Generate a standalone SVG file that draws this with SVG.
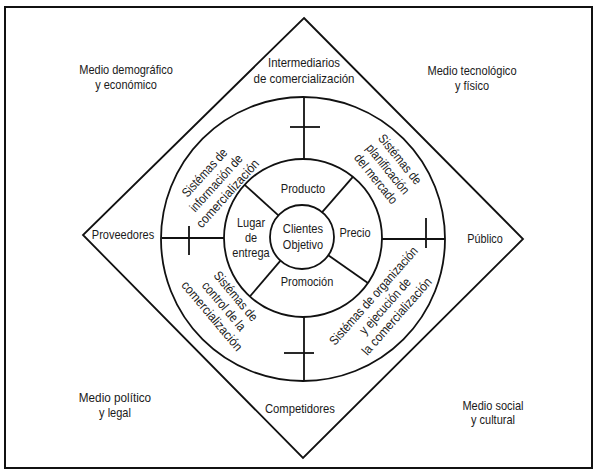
<svg xmlns="http://www.w3.org/2000/svg" width="596" height="472" viewBox="0 0 596 472">
<style>
.t{font-family:"Liberation Sans",Arial,sans-serif;font-size:13px;fill:#1a1a1a;text-anchor:middle}
.s{fill:none;stroke:#111;stroke-width:1.8}
.f{fill:none;stroke:#111;stroke-width:2}
</style>
<rect width="596" height="472" fill="#ffffff"/>
<rect id="frame" class="f" x="5" y="7" width="587" height="461"/>
<g id="shapes">
<polygon id="diamond" class="s" points="304,18 523,239 303,458 83,235"/>
<circle id="outer-ring" class="s" cx="303" cy="239" r="142"/>
<circle id="middle-ring" class="s" cx="303" cy="238" r="79"/>
<circle id="inner-circle" class="s" cx="302" cy="237" r="32"/>
</g>
<g id="connectors" class="s">
<line x1="304" y1="97" x2="304" y2="159"/>
<line x1="290" y1="127" x2="320" y2="127"/>
<line x1="304" y1="317" x2="304" y2="381"/>
<line x1="284" y1="353" x2="314" y2="353"/>
<line x1="162" y1="238" x2="224" y2="238"/>
<line x1="189" y1="226" x2="189" y2="255"/>
<line x1="382" y1="239" x2="445" y2="239"/>
<line x1="426" y1="218" x2="426" y2="248"/>
<line x1="278.4" y1="215.4" x2="244.7" y2="184.8"/>
<line x1="322.2" y1="212.2" x2="352.9" y2="176.8"/>
<line x1="328.3" y1="255.2" x2="367.9" y2="283"/>
<line x1="280.5" y1="260.7" x2="249.8" y2="296.5"/>
</g>
<g id="medio-demografico"><text class="t" x="126" y="74" textLength="93.5" lengthAdjust="spacingAndGlyphs">Medio demográfico</text><text class="t" x="126" y="89" textLength="61.7" lengthAdjust="spacingAndGlyphs">y económico</text></g>
<g id="medio-tecnologico"><text class="t" x="472" y="75" textLength="89.1" lengthAdjust="spacingAndGlyphs">Medio tecnológico</text><text class="t" x="472" y="90" textLength="34.2" lengthAdjust="spacingAndGlyphs">y físico</text></g>
<g id="medio-politico"><text class="t" x="115" y="402" textLength="72.3" lengthAdjust="spacingAndGlyphs">Medio político</text><text class="t" x="115" y="417" textLength="31.8" lengthAdjust="spacingAndGlyphs">y legal</text></g>
<g id="medio-social"><text class="t" x="493" y="410" textLength="61.1" lengthAdjust="spacingAndGlyphs">Medio social</text><text class="t" x="493" y="424" textLength="44" lengthAdjust="spacingAndGlyphs">y cultural</text></g>
<g id="intermediarios"><text class="t" x="304" y="67" textLength="72" lengthAdjust="spacingAndGlyphs">Intermediarios</text><text class="t" x="304" y="83" textLength="101" lengthAdjust="spacingAndGlyphs">de comercialización</text></g>
<g id="proveedores"><text class="t" x="123" y="239" textLength="62.4" lengthAdjust="spacingAndGlyphs">Proveedores</text></g>
<g id="publico"><text class="t" x="485" y="243" textLength="35.5" lengthAdjust="spacingAndGlyphs">Público</text></g>
<g id="competidores"><text class="t" x="300" y="413" textLength="70" lengthAdjust="spacingAndGlyphs">Competidores</text></g>
<g id="sis-informacion" transform="translate(216,183) rotate(-48)"><text class="t" x="0" y="-11" textLength="60.5" lengthAdjust="spacingAndGlyphs">Sistémas de</text><text class="t" x="0" y="4.5" textLength="72.1" lengthAdjust="spacingAndGlyphs">información de</text><text class="t" x="0" y="20" textLength="86.8" lengthAdjust="spacingAndGlyphs">comercialización</text></g>
<g id="sis-planificacion" transform="translate(388,169) rotate(51)"><text class="t" x="0" y="-11" textLength="60.5" lengthAdjust="spacingAndGlyphs">Sistémas de</text><text class="t" x="0" y="4.5" textLength="60.5" lengthAdjust="spacingAndGlyphs">planificación</text><text class="t" x="0" y="20" textLength="60.5" lengthAdjust="spacingAndGlyphs">del mercado</text></g>
<g id="sis-control" transform="translate(224,306) rotate(50)"><text class="t" x="0" y="-11" textLength="60.5" lengthAdjust="spacingAndGlyphs">Sistémas de</text><text class="t" x="0" y="4.5" textLength="59.9" lengthAdjust="spacingAndGlyphs">control de la</text><text class="t" x="0" y="20" textLength="86.8" lengthAdjust="spacingAndGlyphs">comercialización</text></g>
<g id="sis-organizacion" transform="translate(385,306) rotate(-48.5)"><text class="t" x="0" y="-11" textLength="126" lengthAdjust="spacingAndGlyphs">Sistémas de organización</text><text class="t" x="0" y="4.5" textLength="70.3" lengthAdjust="spacingAndGlyphs">y ejecución de</text><text class="t" x="0" y="20" textLength="98.4" lengthAdjust="spacingAndGlyphs">la comercialización</text></g>
<g id="producto"><text class="t" x="303" y="193" textLength="44.5" lengthAdjust="spacingAndGlyphs">Producto</text></g>
<g id="precio"><text class="t" x="355" y="237" textLength="31.2" lengthAdjust="spacingAndGlyphs">Precio</text></g>
<g id="lugar"><text class="t" x="251" y="227" textLength="28.1" lengthAdjust="spacingAndGlyphs">Lugar</text><text class="t" x="251" y="242" textLength="12.2" lengthAdjust="spacingAndGlyphs">de</text><text class="t" x="251" y="257" textLength="37.3" lengthAdjust="spacingAndGlyphs">entrega</text></g>
<g id="promocion"><text class="t" x="307" y="286" textLength="52.6" lengthAdjust="spacingAndGlyphs">Promoción</text></g>
<g id="clientes"><text class="t" x="303" y="233" textLength="40.3" lengthAdjust="spacingAndGlyphs">Clientes</text><text class="t" x="303" y="249" textLength="40.3" lengthAdjust="spacingAndGlyphs">Objetivo</text></g>
</svg>
